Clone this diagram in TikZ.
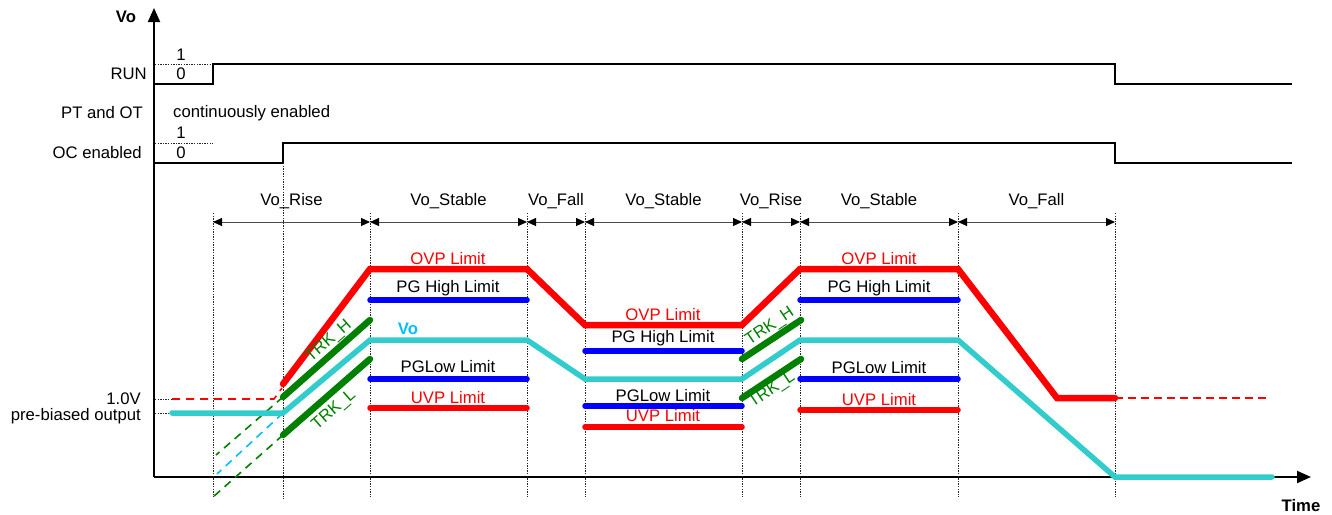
\documentclass[tikz,border=0pt]{standalone}
\usepackage{fontspec}
\setmainfont{Liberation Sans}
\usetikzlibrary{arrows.meta}
\definecolor{vcyan}{RGB}{51,204,204}
\definecolor{vsky}{RGB}{0,191,255}
\definecolor{vgreen}{RGB}{0,128,0}
\definecolor{vred}{RGB}{255,0,0}
\definecolor{vblue}{RGB}{0,0,255}
\begin{document}
\begin{tikzpicture}[x=1pt,y=-1pt,
  every node/.style={font=\fontsize{16.7}{19}\selectfont, inner sep=0pt},
  bold/.style={font=\fontsize{16.7}{19}\selectfont\bfseries},
  axisline/.style={line width=2pt, -{Triangle[length=14pt,width=12pt]}},
  sig/.style={line width=2pt, line join=miter},
  guide/.style={line width=0.8pt, dash pattern=on 1.3pt off 1.3pt, black!85},
  dimline/.style={line width=1pt, black!70, {Triangle[length=9pt,width=8pt,color=black]}-{Triangle[length=9pt,width=8pt,color=black]}},
  ovp/.style={vred, line width=6.5pt, line cap=round, line join=miter},
  limitred/.style={vred, line width=5.5pt, line cap=round},
  limitblue/.style={vblue, line width=5.5pt, line cap=round},
  vo/.style={vcyan, line width=5.5pt, line cap=round, line join=miter},
  trk/.style={vgreen, line width=6.5pt, line cap=round},
  ext/.style={line width=1.6pt, dash pattern=on 8pt off 6pt},
  redlbl/.style={text=vred},
  trklbl/.style={text=vgreen},
]
\useasboundingbox (0,0) rectangle (1332,514);

% axes
\coordinate (origin) at (154,477);
\coordinate (ytop) at (154,8);
\coordinate (xend) at (1311,477);
\draw[axisline] (origin) -- (ytop);
\draw[axisline] (origin) -- (xend);
\node[bold] (vlabel) at (126,17) {Vo};
\node[bold] (tlabel) at (1301,506) {Time};

% RUN signal
\node (run1) at (181,55) {1};
\node (run0) at (181,74) {0};
\node[anchor=east] (runlbl) at (147,74) {RUN};
\draw[guide] (155,64) -- (213,64);
\draw[sig] (155,84) -- (213,84) -- (213,64) -- (1115,64) -- (1115,84) -- (1292,84);

% PT and OT
\node[anchor=east] (ptlbl) at (143,113) {PT and OT};
\node[anchor=west] (ptcont) at (173,113) {continuously enabled};

% OC enabled
\node (oc1) at (181,133) {1};
\node (oc0) at (181,153) {0};
\node[anchor=east] (oclbl) at (142,153) {OC enabled};
\draw[guide] (155,143) -- (213,143);
\draw[sig] (155,163) -- (283,163) -- (283,143) -- (1115,143) -- (1115,163) -- (1292,163);

% vertical guides
\draw[guide] (213,213) -- (213,497);
\draw[guide] (283,163) -- (283,499);
\foreach \xx in {370,527,585,742,800,958,1115}
  \draw[guide] (\xx,213) -- (\xx,497);

% phase dimension arrows
\foreach \xx [count=\i] in {213,370,527,585,742,800,958,1115}
  \coordinate (d\i) at (\xx,222);
\draw[dimline] (d1) -- (d2);
\draw[dimline] (d2) -- (d3);
\draw[dimline] (d3) -- (d4);
\draw[dimline] (d4) -- (d5);
\draw[dimline] (d5) -- (d6);
\draw[dimline] (d6) -- (d7);
\draw[dimline] (d7) -- (d8);
\node (p1) at (291.5,201) {Vo\_Rise};
\node (p2) at (448.5,201) {Vo\_Stable};
\node (p3) at (556,201) {Vo\_Fall};
\node (p4) at (663.5,201) {Vo\_Stable};
\node (p5) at (771,201) {Vo\_Rise};
\node (p6) at (879,201) {Vo\_Stable};
\node (p7) at (1036.5,201) {Vo\_Fall};

% left level ticks
\node[anchor=east] (v10) at (141,399) {1.0V};
\node[anchor=east] (vpre) at (141,416) {pre-biased output};
\draw[guide] (155,399) -- (172,399);
\draw[guide] (155,413) -- (172,413);

% dashed pre-start extensions
\draw[vred, ext] (172,399) -- (274,399) -- (282,388);
\draw[vgreen, ext] (283,397) -- (216,455);
\draw[vsky, ext] (283,413) -- (217,474);
\draw[vgreen, ext] (283,435) -- (213,497);
\draw[vred, ext, dash pattern=on 8pt off 5pt] (1115,398) -- (1268,398);

% OVP trace
\draw[ovp] (283,384) -- (370,269) -- (527,269) -- (585,325) -- (742,325) -- (800,269) -- (958,269) -- (1057,398) -- (1115,398);

% limits
\draw[limitblue] (370,300) -- (527,300);
\draw[limitblue] (585,351) -- (742,351);
\draw[limitblue] (800,300) -- (958,300);
\draw[limitblue] (370,379) -- (527,379);
\draw[limitblue] (585,406) -- (742,406);
\draw[limitblue] (800,379) -- (958,379);
\draw[limitred] (370,408) -- (527,408);
\draw[limitred] (585,427) -- (742,427);
\draw[limitred] (800,410) -- (958,410);

% Vo trace
\draw[vo] (172,413) -- (283,413) -- (370,340) -- (527,340) -- (585,379) -- (742,379) -- (800,340) -- (958,340) -- (1115,477) -- (1272,477);

% tracking lines
\draw[trk] (283,397) -- (370,320);
\draw[trk] (283,435) -- (370,359);
\draw[trk] (742,359) -- (801,320);
\draw[trk] (742,398) -- (801,359);

% labels of limits
\node[redlbl] (ovp1) at (448,259) {OVP Limit};
\node (pgh1) at (448,288) {PG High Limit};
\node[bold, text=vsky] (volbl) at (408,329) {Vo};
\node (pgl1) at (448,367) {PGLow Limit};
\node[redlbl] (uvp1) at (448,398) {UVP Limit};

\node[redlbl] (ovp2) at (663,315) {OVP Limit};
\node (pgh2) at (663,338) {PG High Limit};
\node (pgl2) at (663,396) {PGLow Limit};
\node[redlbl] (uvp2) at (663,416) {UVP Limit};

\node[redlbl] (ovp3) at (879,259) {OVP Limit};
\node (pgh3) at (879,288) {PG High Limit};
\node (pgl3) at (879,368) {PGLow Limit};
\node[redlbl] (uvp3) at (879,400) {UVP Limit};

% tracking labels
\node[trklbl, rotate=41] (trkh1) at (329,341) {TRK\_H};
\node[trklbl, rotate=41] (trkl1) at (334,410) {TRK\_L};
\node[trklbl, rotate=34] (trkh2) at (770,327) {TRK\_H};
\node[trklbl, rotate=34] (trkl2) at (772,390) {TRK\_L};
\end{tikzpicture}
\end{document}
